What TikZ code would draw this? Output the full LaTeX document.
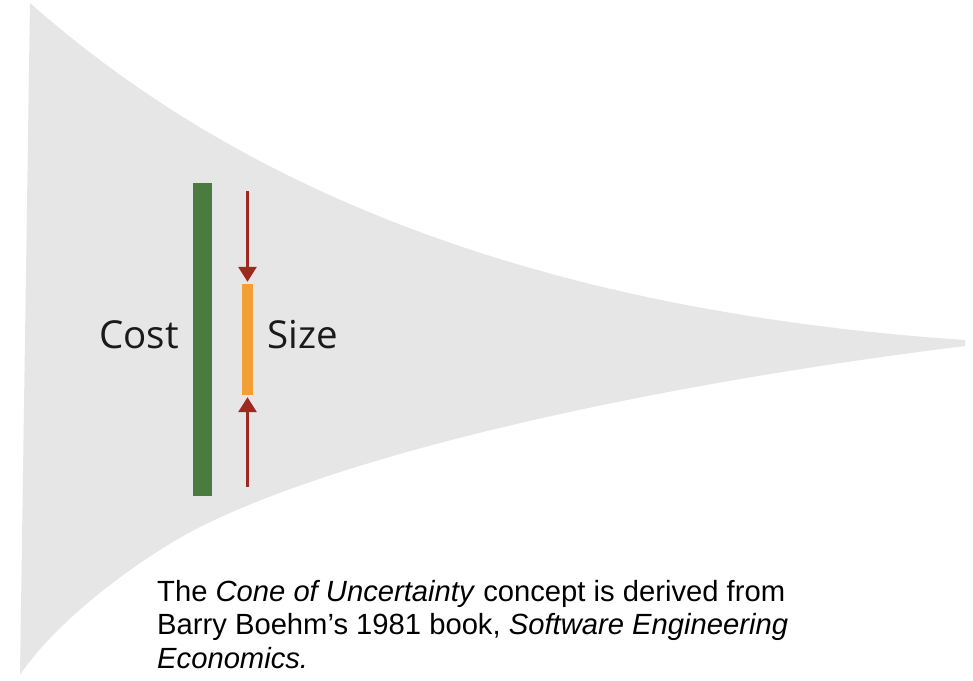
\documentclass[tikz,border=0pt]{standalone}
\usepackage{fontspec}
\setmainfont{Liberation Sans}
\newfontfamily\opensans{Open Sans}
\usetikzlibrary{arrows.meta}
\definecolor{conegray}{HTML}{E6E6E6}
\definecolor{costgreen}{HTML}{4A7C3F}
\definecolor{sizeorange}{HTML}{F2A035}
\definecolor{arrowred}{HTML}{A0291F}
\definecolor{textblack}{HTML}{1A1A1A}
\tikzset{
  bar/.style={rectangle, inner sep=0pt, minimum width=#1},
  barlabel/.style={font=\opensans\fontsize{38.5}{44}\selectfont, text=textblack, inner sep=0pt},
  squeeze/.style={draw=arrowred, line width=3pt, -{Triangle[width=18pt,length=15pt]}},
}
\begin{document}
\begin{tikzpicture}[x=1pt,y=-1pt]
\useasboundingbox (0,0) rectangle (973,680);
% cone
\fill[conegray] (30,3) .. controls (230,180) and (520,310) .. (965,340)
  -- (965,346)
  .. controls (650,385) and (350,452) .. (200,527)
  .. controls (150,552) and (60,615) .. (20,675)
  -- cycle;
% bars
\node[bar=19pt, minimum height=313pt, fill=costgreen] (costbar) at (202.5,339.5) {};
\node[bar=11pt, minimum height=111pt, fill=sizeorange] (sizebar) at (247.5,339.5) {};
% labels
\node[barlabel, anchor=base east] (cost) at (179,348) {Cost};
\node[barlabel, anchor=base west] (size) at (267,348) {Size};
% arrows
\coordinate (topstart) at (247.5,191);
\coordinate (botstart) at (247.5,487);
\draw[squeeze, shorten >=2pt] (topstart) -- (sizebar.north);
\draw[squeeze, shorten >=2pt] (botstart) -- (sizebar.south);
% caption
\node[anchor=north west, align=left, inner sep=0pt, text=black,
      font=\fontsize{29.2}{33.5}\selectfont] (caption) at (157,580)
  {The \textit{Cone of Uncertainty} concept is derived from\\
   Barry Boehm’s 1981 book, \textit{Software Engineering}\\
   \textit{Economics.}};
\end{tikzpicture}
\end{document}
